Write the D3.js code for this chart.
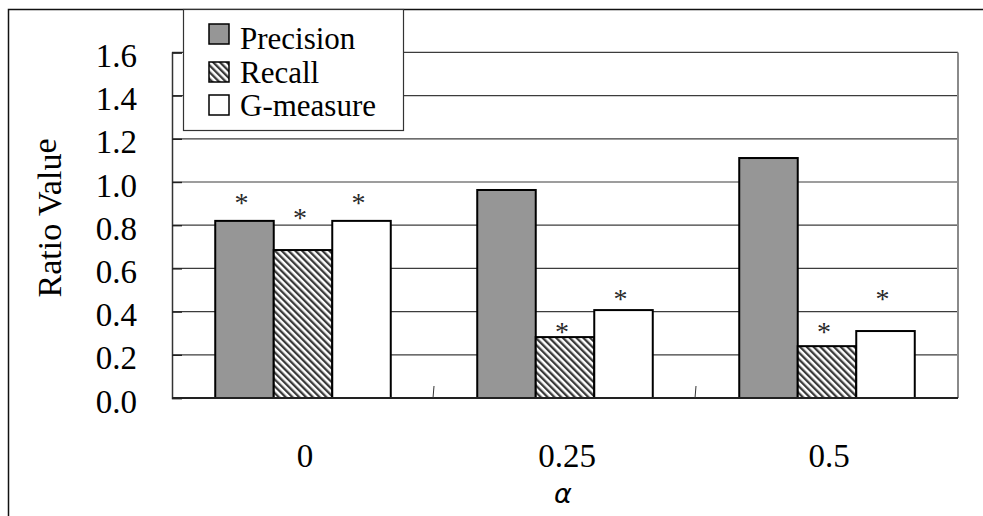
<!DOCTYPE html>
<html>
<head>
<meta charset="utf-8">
<script src="https://cdn.jsdelivr.net/npm/d3@7"></script>
<style>
  html, body { margin: 0; padding: 0; background: #fff; }
  svg { display: block; }
</style>
</head>
<body>
<svg id="chart" width="983" height="516"></svg>
<script>
// Values per alpha setting
const categories = ["0", "0.25", "0.5"];
const seriesNames = ["Precision", "Recall", "G-measure"];
const precision = [0.82, 0.963, 1.111];
const recall = [0.685, 0.282, 0.24];
const gMeasure = [0.82, 0.407, 0.31];
// Heights of the significance asterisks (value units), null = none
const starPrecision = [0.926, null, null];
const starRecall = [0.856, 0.329, 0.329];
const starGMeasure = [0.926, 0.481, 0.481];
const yTicks = [0, 0.2, 0.4, 0.6, 0.8, 1.0, 1.2, 1.4, 1.6];

const SERIF = "Liberation Serif";

const svg = d3.select("#chart");
const W = 983, H = 516;
const plot = { left: 172, right: 958, top: 52.4, bottom: 398 };

const x = d3.scaleBand().domain(categories).range([plot.left, plot.right]).padding(0);
const xs = d3.scaleBand().domain(seriesNames).range([0, x.step()])
  .paddingInner(0).paddingOuter(0.739);
const y = d3.scaleLinear().domain([0, 1.6]).range([plot.bottom, plot.top]);

// Diagonal hatching for the Recall series
const defs = svg.append("defs");
const pat = defs.append("pattern")
  .attr("id", "hatch").attr("patternUnits", "userSpaceOnUse")
  .attr("width", 4.8).attr("height", 4.8)
  .attr("patternTransform", "rotate(-45)");
pat.append("rect").attr("width", 4.8).attr("height", 4.8).attr("fill", "#fff");
pat.append("rect").attr("x", 0).attr("width", 2.3).attr("height", 4.8).attr("fill", "#3a3a3a");

const fills = { "Precision": "#969696", "Recall": "url(#hatch)", "G-measure": "#ffffff" };

// Outer frame
svg.append("rect").attr("x", 8.5).attr("y", 9.5).attr("width", W).attr("height", H)
  .attr("fill", "#fff").attr("stroke", "#111").attr("stroke-width", 1.5);

// Gridlines
svg.append("g").selectAll("line").data(yTicks.slice(1)).join("line")
  .attr("x1", plot.left).attr("x2", plot.right)
  .attr("y1", d => y(d)).attr("y2", d => y(d))
  .attr("stroke", "#3c3c3c").attr("stroke-width", 1.2);

// Right border of the plot area
svg.append("line").attr("x1", plot.right).attr("x2", plot.right)
  .attr("y1", plot.top).attr("y2", plot.bottom)
  .attr("stroke", "#8a8a8a").attr("stroke-width", 2);

// Y axis
const yAxis = d3.axisLeft(y).tickValues(yTicks).tickSize(-10).tickFormat(d3.format(".1f"));
const gy = svg.append("g").attr("transform", `translate(${plot.left},0)`).call(yAxis)
  .attr("font-family", SERIF).attr("font-size", 33);
gy.select(".domain").attr("stroke", "#333").attr("stroke-width", 1.5);
gy.selectAll(".tick line").attr("stroke", "#222").attr("stroke-width", 1.4);
gy.selectAll(".tick text")
  .attr("x", -35).attr("dy", 0).attr("y", 14)
  .attr("fill", "#000");

// Bars
const rows = categories.map((c, i) => ({
  cat: c,
  vals: [
    { s: "Precision", v: precision[i], star: starPrecision[i] },
    { s: "Recall", v: recall[i], star: starRecall[i] },
    { s: "G-measure", v: gMeasure[i], star: starGMeasure[i] }
  ]
}));

const groups = svg.append("g").selectAll("g").data(rows).join("g")
  .attr("transform", d => `translate(${x(d.cat)},0)`);

groups.selectAll("rect").data(d => d.vals).join("rect")
  .attr("x", d => xs(d.s)).attr("width", xs.bandwidth())
  .attr("y", d => y(d.v)).attr("height", d => y(0) - y(d.v))
  .attr("fill", d => fills[d.s]).attr("stroke", "#000").attr("stroke-width", 2);

groups.selectAll("text.star").data(d => d.vals.filter(v => v.star !== null)).join("text")
  .attr("class", "star")
  .attr("x", d => xs(d.s) + xs.bandwidth() / 2 - 3)
  .attr("y", d => y(d.star) + 14)
  .attr("text-anchor", "middle")
  .attr("font-family", SERIF).attr("font-size", 28).attr("fill", "#2a2a2a")
  .text("*");

// Baseline and category separators
svg.append("line").attr("x1", plot.left).attr("x2", plot.right)
  .attr("y1", plot.bottom).attr("y2", plot.bottom)
  .attr("stroke", "#222").attr("stroke-width", 2);
svg.append("g").selectAll("line").data(categories.slice(1)).join("line")
  .attr("x1", d => x(d) - 1).attr("x2", d => x(d))
  .attr("y1", plot.bottom).attr("y2", plot.bottom - 12)
  .attr("stroke", "#333").attr("stroke-width", 1);

// Category labels
svg.append("g").selectAll("text").data(categories).join("text")
  .attr("x", d => x(d) + x.bandwidth() / 2 + 2)
  .attr("y", 467)
  .attr("text-anchor", "middle")
  .attr("font-family", SERIF).attr("font-size", 33)
  .text(d => d);

// Axis titles
svg.append("text")
  .attr("x", (plot.left + plot.right) / 2 - 2).attr("y", 503)
  .attr("text-anchor", "middle")
  .attr("font-family", "DejaVu Sans").attr("font-style", "italic")
  .attr("font-size", 27)
  .text("α");

const yTitle = svg.append("text")
  .attr("transform", "translate(61,218) rotate(-90)")
  .attr("text-anchor", "middle")
  .attr("font-family", SERIF).attr("font-size", 34);
yTitle.append("tspan").text("Ratio Valu");
yTitle.append("tspan").attr("dy", -5).text("e");

// Legend
const legend = svg.append("g");
legend.append("rect").attr("x", 183.5).attr("y", 9.5).attr("width", 220).attr("height", 121)
  .attr("fill", "#fff").attr("stroke", "#333").attr("stroke-width", 1.2);
const legendRows = [
  { s: "Precision", sy: 24, ty: 49 },
  { s: "Recall", sy: 62, ty: 82.5 },
  { s: "G-measure", sy: 95, ty: 116 }
];
const li = legend.selectAll("g").data(legendRows).join("g");
li.append("rect").attr("x", 209).attr("y", d => d.sy).attr("width", 20).attr("height", 20)
  .attr("fill", d => fills[d.s]).attr("stroke", "#000").attr("stroke-width", 1.5);
li.append("text").attr("x", 240).attr("y", d => d.ty)
  .attr("font-family", SERIF).attr("font-size", 31).text(d => d.s);
</script>
</body>
</html>
